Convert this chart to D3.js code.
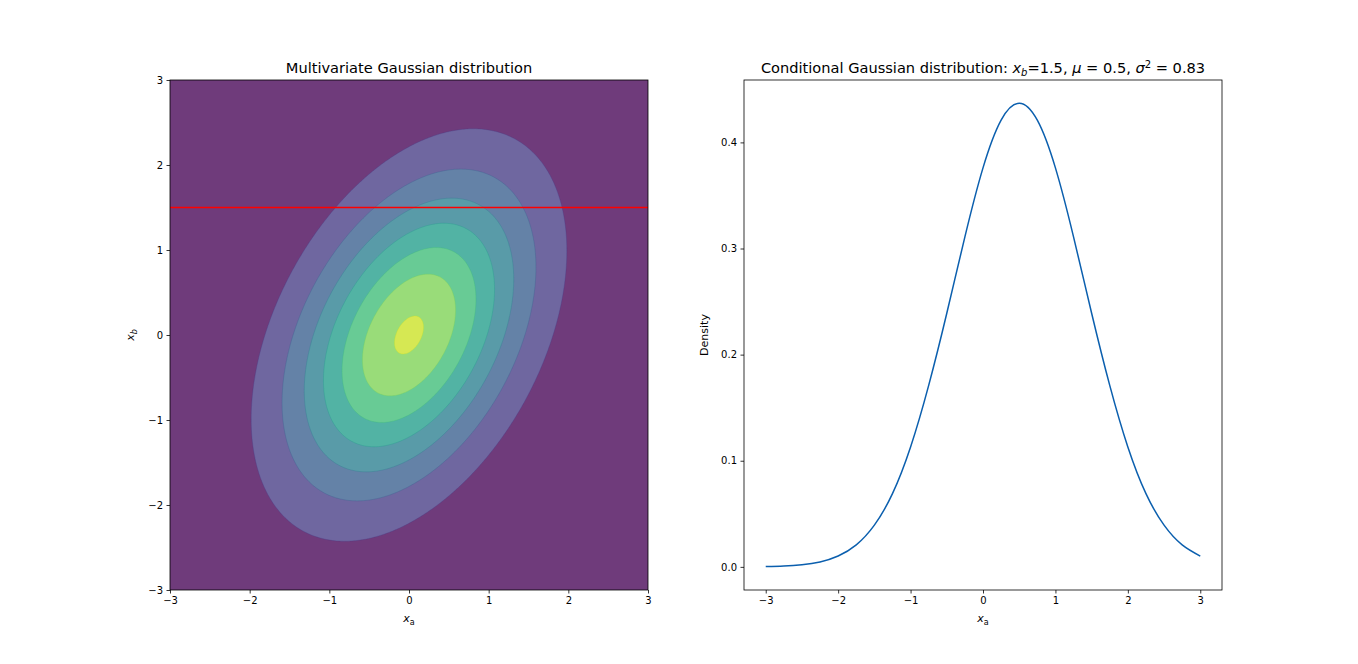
<!DOCTYPE html>
<html><head><meta charset="utf-8">
<script src="https://cdn.jsdelivr.net/npm/d3@7"></script>
<style>
body{margin:0;background:#fff;font-family:"DejaVu Sans",sans-serif;}
text{font-family:"DejaVu Sans",sans-serif;fill:#000;}
</style></head>
<body><svg width="1358" height="664"></svg>
<script>
// distribution parameters
const mean = [0, 0];
const cov = [[1, 0.5], [0.5, 1.5]];
const levels = [0, 0.02, 0.04, 0.06, 0.08, 0.10, 0.12, 0.14, 0.16];
const bandTone = [0, 0.17, 0.29, 0.42, 0.55, 0.68, 0.80, 0.92];
const xbLine = 1.5;
const ticks = [-3, -2, -1, 0, 1, 2, 3];
const densTicks = [0.0, 0.1, 0.2, 0.3, 0.4];
// conditional density read at step 0.25
const condX = d3.range(-3, 3.001, 0.25);
const condY = [0.0003, 0.0008, 0.002, 0.0046, 0.0102, 0.0207, 0.0393, 0.069, 0.113, 0.171, 0.239, 0.311, 0.376,
  0.421, 0.437, 0.421, 0.376, 0.311, 0.239, 0.171, 0.113, 0.069, 0.0393, 0.0207, 0.0102];

const svg = d3.select('svg');
const L = {x0: 170, x1: 648, y0: 80, y1: 590};
const R = {x0: 744, x1: 1222, y0: 80, y1: 590};
const fmt = d => (d < 0 ? '\u2212' + Math.abs(d) : d);
const band = i => d3.interpolateRgb('#ffffff', d3.interpolateViridis(bandTone[i]))(0.77);

// left: contour plot
const xl = d3.scaleLinear().domain([-3, 3]).range([L.x0, L.x1]);
const yl = d3.scaleLinear().domain([-3, 3]).range([L.y1, L.y0]);
const n = 300;
const step = 6 / (n - 1);
const det = cov[0][0] * cov[1][1] - cov[0][1] * cov[1][0];
const inv = [[cov[1][1] / det, -cov[0][1] / det], [-cov[1][0] / det, cov[0][0] / det]];
const values = new Array(n * n);
for (let j = 0; j < n; j++) {
  for (let i = 0; i < n; i++) {
    const a = -3 + i * step - mean[0], b = -3 + j * step - mean[1];
    const q = a * a * inv[0][0] + 2 * a * b * inv[0][1] + b * b * inv[1][1];
    values[j * n + i] = Math.exp(-q / 2) / (2 * Math.PI * Math.sqrt(det));
  }
}
const contours = d3.contours().size([n, n]).thresholds(levels.slice(0, -1))(values);
const proj = d3.geoTransform({
  point(x, y) { this.stream.point(xl(-3 + (x - 0.5) * step), yl(-3 + (y - 0.5) * step)); }
});
svg.append('clipPath').attr('id', 'clipL').append('rect')
  .attr('x', L.x0).attr('y', L.y0).attr('width', L.x1 - L.x0).attr('height', L.y1 - L.y0);
const gc = svg.append('g').attr('clip-path', 'url(#clipL)');
gc.append('rect').attr('x', L.x0).attr('y', L.y0).attr('width', L.x1 - L.x0).attr('height', L.y1 - L.y0)
  .attr('fill', band(0));
gc.selectAll('path.c').data(contours.slice(1)).enter().append('path')
  .attr('d', d3.geoPath(proj))
  .attr('fill', (d, i) => band(i + 1))
  .attr('stroke', (d, i) => d3.interpolateViridis(bandTone[i + 1]))
  .attr('stroke-opacity', 0.5)
  .attr('stroke-width', 0.6);
gc.append('line').attr('x1', L.x0).attr('x2', L.x1).attr('y1', yl(xbLine)).attr('y2', yl(xbLine))
  .attr('stroke', '#ff0000').attr('stroke-width', 1.6);

// right: conditional density
const xr = d3.scaleLinear().domain([-3.3, 3.3]).range([R.x0, R.x1]);
const yr = d3.scaleLinear().domain([-0.0218, 0.4588]).range([R.y1, R.y0]);
svg.append('path').datum(condX.map((x, i) => [x, condY[i]]))
  .attr('d', d3.line().x(d => xr(d[0])).y(d => yr(d[1])).curve(d3.curveNatural))
  .attr('fill', 'none').attr('stroke', '#0b5fae').attr('stroke-width', 1.5);

function axes(P, xs, ys, yt, yf) {
  const gx = svg.append('g').attr('transform', `translate(0,${P.y1})`)
    .call(d3.axisBottom(xs).tickValues(ticks).tickSize(3.5).tickPadding(3.5).tickFormat(fmt));
  const gy = svg.append('g').attr('transform', `translate(${P.x0},0)`)
    .call(d3.axisLeft(ys).tickValues(yt).tickSize(3.5).tickPadding(3.5).tickFormat(yf));
  [gx, gy].forEach(g => {
    g.select('.domain').remove();
    g.selectAll('text').attr('font-size', 10).attr('font-family', 'DejaVu Sans');
    g.selectAll('line').attr('stroke', '#000').attr('stroke-width', 0.8);
  });
  svg.append('rect').attr('x', P.x0).attr('y', P.y0).attr('width', P.x1 - P.x0).attr('height', P.y1 - P.y0)
    .attr('fill', 'none').attr('stroke', '#000').attr('stroke-width', 0.8);
}
axes(L, xl, yl, ticks, fmt);
axes(R, xr, yr, densTicks, d3.format('.1f'));

function xlabel(P, sub) {
  const t = svg.append('text').attr('x', (P.x0 + P.x1) / 2).attr('y', 622).attr('text-anchor', 'middle').attr('font-size', 11);
  t.append('tspan').attr('font-style', 'italic').text('x');
  t.append('tspan').attr('font-size', 8).attr('dy', 3).text(sub);
}
xlabel(L, 'a'); xlabel(R, 'a');
const yb = svg.append('text').attr('transform', `translate(134,${(L.y0 + L.y1) / 2}) rotate(-90)`)
  .attr('text-anchor', 'middle').attr('font-size', 11);
yb.append('tspan').attr('font-style', 'italic').text('x');
yb.append('tspan').attr('font-size', 8).attr('font-style', 'italic').attr('dy', 3).text('b');
svg.append('text').attr('transform', `translate(708,${(R.y0 + R.y1) / 2}) rotate(-90)`)
  .attr('text-anchor', 'middle').attr('font-size', 11).text('Density');

svg.append('text').attr('x', (L.x0 + L.x1) / 2).attr('y', 73).attr('text-anchor', 'middle').attr('font-size', 14.6)
  .text('Multivariate Gaussian distribution');
const tt = svg.append('text').attr('x', (R.x0 + R.x1) / 2).attr('y', 73).attr('text-anchor', 'middle').attr('font-size', 14.6);
tt.append('tspan').text('Conditional Gaussian distribution: ');
tt.append('tspan').attr('font-style', 'italic').text('x');
tt.append('tspan').attr('font-style', 'italic').attr('font-size', 10).attr('dy', 3).text('b');
tt.append('tspan').attr('dy', -3).text('=1.5, ');
tt.append('tspan').attr('font-style', 'italic').text('\u03bc');
tt.append('tspan').text(' = 0.5, ');
tt.append('tspan').attr('font-style', 'italic').text('\u03c3');
tt.append('tspan').attr('font-size', 10).attr('dy', -5).text('2');
tt.append('tspan').attr('dy', 5).text(' = 0.83');
</script></body></html>
